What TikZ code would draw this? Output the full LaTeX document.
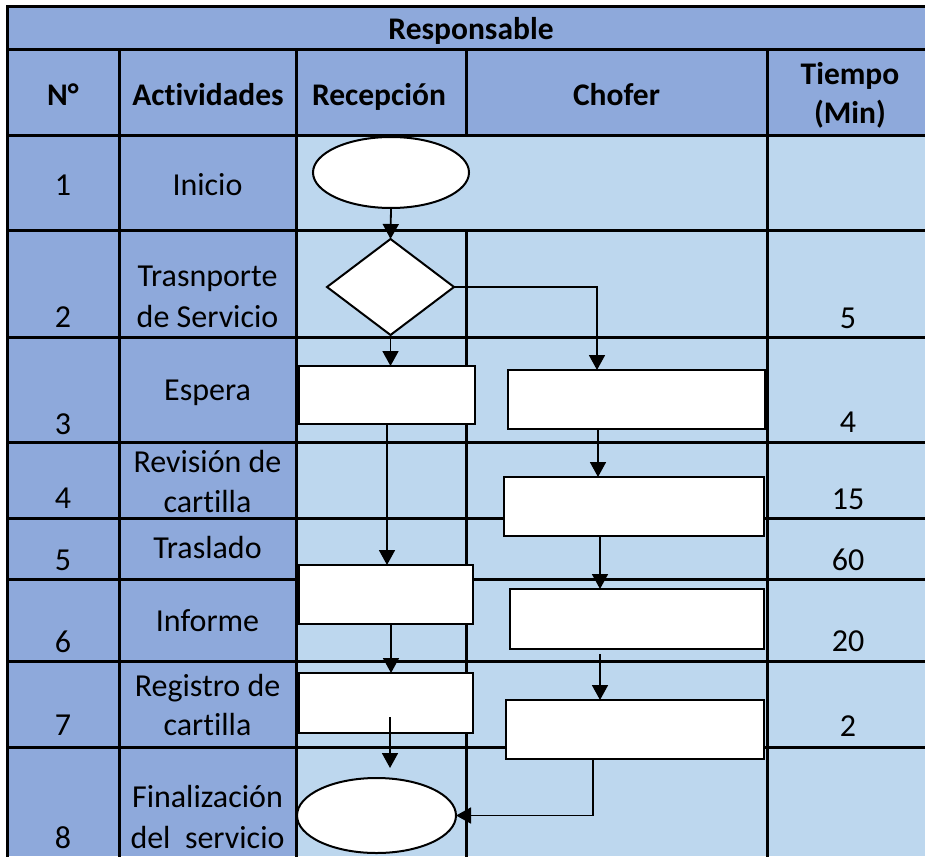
\documentclass[tikz,border=0pt]{standalone}
\usepackage{fontspec}
\setmainfont{Carlito}[Ligatures={NoCommon,NoContextual}]
\usetikzlibrary{shapes.geometric,arrows.meta}
\definecolor{hdr}{HTML}{8EA9DB}
\definecolor{lite}{HTML}{BDD7EE}
\begin{document}
\begin{tikzpicture}[x=1pt,y=-1pt,
  txt/.style={inner sep=0pt, anchor=base, font=\fontsize{32}{38}\selectfont},
  hd/.style={inner sep=0pt, anchor=base, font=\fontsize{31.5}{38}\selectfont\bfseries},
  gridline/.style={line width=3pt, line cap=rect},
  box/.style={draw, fill=white, line width=2pt, rectangle, inner sep=0pt, outer sep=0pt},
  oval/.style={draw, fill=white, line width=2pt, ellipse, inner sep=0pt, outer sep=0pt},
  dia/.style={draw, fill=white, line width=2pt, diamond, inner sep=0pt, outer sep=0pt},
  arr/.style={line width=1.8pt, -{Triangle[length=15pt,width=16pt]}}]
% canvas
\fill[white] (0,0) rectangle (925,856);
\useasboundingbox (0,0) rectangle (925,856);
% cell fills
\fill[hdr] (7,7) rectangle (925,135);
\fill[hdr] (7,135) rectangle (296,856);
\fill[lite] (296,135) rectangle (925,856);
% grid
\foreach \yy in {7,50,135,230,337,442,518,579,661,747}
  \draw[gridline] (7,\yy) -- (925,\yy);
\draw[gridline] (7,7) -- (7,856);
\foreach \xx in {119,296,767}
  \draw[gridline] (\xx,50) -- (\xx,856);
\draw[gridline] (466,50) -- (466,135);
\draw[gridline] (466,230) -- (466,856);
% header texts
\node[hd] (hResp) at (471,40) {Responsable};
\node[hd] (hNo) at (63,106) {N°};
\node[hd] (hAct) at (208,106) {Actividades};
\node[hd] (hRec) at (379,106) {Recepción};
\node[hd] (hCho) at (616.5,106) {Chofer};
\node[hd] (hTie1) at (850,85) {Tiempo};
\node[hd] (hTie2) at (850,124) {(Min)};
% numbers
\node[txt] (n1) at (63,195) {1};
\node[txt] (n2) at (63,327) {2};
\node[txt] (n3) at (63,434) {3};
\node[txt] (n4) at (63,508) {4};
\node[txt] (n5) at (63,570) {5};
\node[txt] (n6) at (63,652) {6};
\node[txt] (n7) at (63,735) {7};
\node[txt] (n8) at (63,848) {8};
% activities
\node[txt] (a1) at (207.5,195) {Inicio};
\node[txt] (a2a) at (207.5,286) {Trasnporte};
\node[txt] (a2b) at (207.5,327) {de Servicio};
\node[txt] (a3) at (207.5,400) {Espera};
\node[txt] (a4a) at (207.5,472) {Revisión de};
\node[txt] (a4b) at (207.5,512) {cartilla};
\node[txt] (a5) at (207.5,558) {Traslado};
\node[txt] (a6) at (207.5,631) {Informe};
\node[txt] (a7a) at (207.5,696) {Registro de};
\node[txt] (a7b) at (207.5,735) {cartilla};
\node[txt] (a8a) at (207.5,807) {Finalización};
\node[txt] (a8b) at (207.5,848) {del\ \ servicio};
% times
\node[txt] (m2) at (848,328) {5};
\node[txt] (m3) at (848,432) {4};
\node[txt] (m4) at (848,509) {15};
\node[txt] (m5) at (848,570) {60};
\node[txt] (m6) at (848,651) {20};
\node[txt] (m7) at (848,736) {2};
% shapes
\node[oval, minimum width=156pt, minimum height=71pt] (e1) at (391,172.5) {};
\node[dia, minimum width=127pt, minimum height=96pt] (d) at (390.5,287) {};
\node[box, minimum width=176pt, minimum height=58pt] (r1) at (387,395) {};
\node[box, minimum width=257pt, minimum height=59pt] (c1) at (636.5,399.5) {};
\node[box, minimum width=260pt, minimum height=59pt] (c2) at (634,506.5) {};
\node[box, minimum width=174pt, minimum height=59pt] (r2) at (386,594.5) {};
\node[box, minimum width=254pt, minimum height=60pt] (c3) at (637,619) {};
\node[box, minimum width=174pt, minimum height=60pt] (r3) at (386,703) {};
\node[box, minimum width=258pt, minimum height=59pt] (c4) at (635,729.5) {};
\node[oval, minimum width=159pt, minimum height=75pt] (e2) at (376.5,815.5) {};
% helper coordinates for connector columns
\coordinate (xA) at (597,0);
\coordinate (xB) at (598,0);
\coordinate (xC) at (600,0);
\coordinate (xD) at (391,0);
\coordinate (xE) at (593,0);
\coordinate (s8) at (390,717);
\coordinate (t8) at (390,768);
\coordinate (s9) at (600,654);
% connectors
\draw[arr] (e1.south) -- (d.north);
\draw[arr] (d.south) -- (d.south |- r1.north);
\draw[arr] (d.east) -| (c1.north -| xA);
\draw[arr] (r1.south) -- (r1.south |- r2.north);
\draw[arr] (c1.south -| xB) -- (c2.north -| xB);
\draw[arr] (c2.south -| xC) -- (c3.north -| xC);
\draw[arr] (r2.south -| xD) -- (r3.north -| xD);
\draw[arr] (s8) -- (t8);
\draw[arr] (s9) -- (c4.north -| s9);
\draw[arr] (c4.south -| xE) |- (e2.east);
\end{tikzpicture}
\end{document}
